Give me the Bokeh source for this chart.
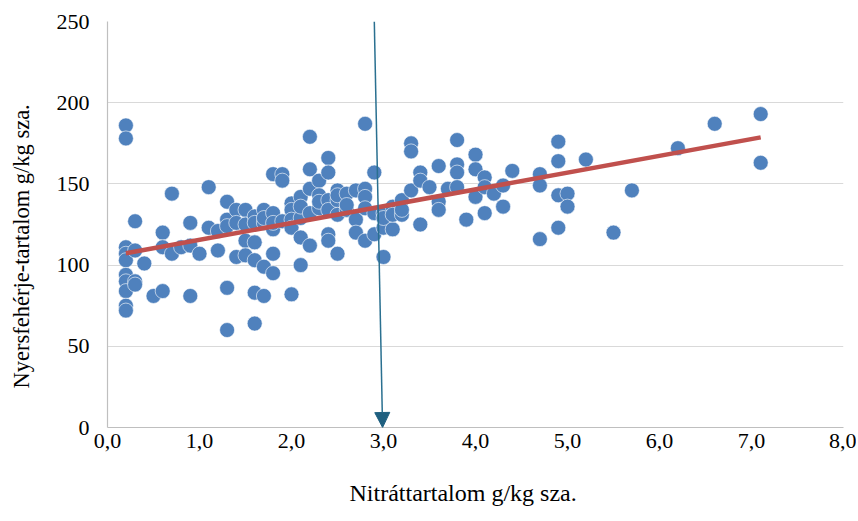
import numpy as np
from bokeh.plotting import figure
from bokeh.models import FixedTicker, Range1d, Arrow, NormalHead, ColumnDataSource, Title
from bokeh.embed import file_html
from bokeh.resources import INLINE

# ---- data ----
nitrate = [
    0.2, 0.2, 0.2, 0.2, 0.2, 0.2, 0.2, 0.2, 0.2, 0.2,
    0.3, 0.3, 0.3, 0.3,
    0.4, 0.5,
    0.6, 0.6, 0.6,
    0.7, 0.7, 0.8,
    0.9, 0.9, 0.9,
    1.0, 1.1, 1.1, 1.2, 1.2,
    1.3, 1.3, 1.3, 1.3, 1.3,
    1.4, 1.4, 1.4,
    1.5, 1.5, 1.5, 1.5,
    1.6, 1.6, 1.6, 1.6, 1.6, 1.6,
    1.7, 1.7, 1.7, 1.7, 1.7,
    1.8, 1.8, 1.8, 1.8, 1.8, 1.8,
    1.9, 1.9, 1.9,
    2.0, 2.0, 2.0, 2.0, 2.0,
    2.1, 2.1, 2.1, 2.1, 2.1,
    2.2, 2.2, 2.2, 2.2, 2.2,
    2.3, 2.3, 2.3, 2.3,
    2.4, 2.4, 2.4, 2.4, 2.4, 2.4,
    2.5, 2.5, 2.5, 2.5, 2.5,
    2.6, 2.6, 2.6,
    2.7, 2.7, 2.7,
    2.8, 2.8, 2.8, 2.8, 2.8,
    2.9, 2.9, 2.9,
    3.0, 3.0, 3.0, 3.0,
    3.1, 3.1, 3.1,
    3.2, 3.2, 3.2,
    3.3, 3.3, 3.3,
    3.4, 3.4, 3.4,
    3.5,
    3.6, 3.6, 3.6,
    3.7,
    3.8, 3.8, 3.8, 3.8,
    3.9,
    4.0, 4.0, 4.0,
    4.1, 4.1, 4.1,
    4.2,
    4.3, 4.3,
    4.4,
    4.7, 4.7, 4.7,
    4.9, 4.9, 4.9, 4.9,
    5.0, 5.0,
    5.2, 5.5, 5.7, 6.2, 6.6,
    7.1, 7.1,
]
protein = [
    186, 178, 111, 107, 103, 94, 90, 84, 75, 72,
    127, 109, 90, 88,
    101, 81,
    120, 111, 84,
    144, 107, 111,
    126, 112, 81,
    107, 148, 123, 121, 109,
    139, 128, 124, 86, 60,
    134, 126, 105,
    134, 115, 106, 125,
    130, 114, 103, 83, 64, 126,
    134, 126, 99, 81, 129,
    156, 132, 122, 107, 95, 126,
    156, 152, 127,
    138, 134, 128, 123, 82,
    142, 129, 117, 100, 136,
    179, 159, 147, 112, 132,
    152, 143, 135, 139,
    166, 157, 140, 134, 119, 115,
    146, 140, 131, 107, 143,
    144, 134, 137,
    146, 128, 120,
    187, 147, 142, 115, 135,
    157, 132, 119,
    132, 123, 105, 129,
    122, 136, 131,
    140, 131, 134,
    175, 170, 146,
    157, 152, 125,
    148,
    161, 139, 134,
    147,
    177, 162, 157, 148,
    128,
    168, 159, 142,
    154, 148, 132,
    144,
    149, 136,
    158,
    156, 149, 116,
    176, 164, 143, 123,
    144, 136,
    165, 120, 146, 172, 187,
    193, 163,
]
x_ticks = [0, 1, 2, 3, 4, 5, 6, 7, 8]
x_tick_labels = ["0,0", "1,0", "2,0", "3,0", "4,0", "5,0", "6,0", "7,0", "8,0"]
y_ticks = [0, 50, 100, 150, 200, 250]
x_label = "Nitráttartalom g/kg sza."
y_label = "Nyersfehérje-tartalom g/kg sza."
# arrow annotation (data coordinates)
arrow_x_start, arrow_y_start = 2.90, 250
arrow_x_end, arrow_y_end = 2.99, 0

FONT = "Liberation Serif"

p = figure(width=856, height=519, output_backend="svg", toolbar_location=None,
           x_range=Range1d(0, 8), y_range=Range1d(0, 250),
           min_border_left=107, min_border_right=13, min_border_top=21, min_border_bottom=92)
p.outline_line_color = None
p.background_fill_color = "white"
p.border_fill_color = "white"

# grid
p.xgrid.grid_line_color = None
p.ygrid.grid_line_color = "#d9d9d9"
p.ygrid.grid_line_width = 1.2
p.ygrid.ticker = FixedTicker(ticks=y_ticks)

# axes
p.xaxis.ticker = FixedTicker(ticks=x_ticks)
p.xaxis.major_label_overrides = {t: l for t, l in zip(x_ticks, x_tick_labels)}
p.yaxis.ticker = FixedTicker(ticks=y_ticks)
for ax in (p.xaxis, p.yaxis):
    ax.axis_line_color = "#bfbfbf"
    ax.axis_line_width = 1.2
    ax.major_tick_line_color = None
    ax.minor_tick_line_color = None
    ax.major_tick_out = 0
    ax.major_tick_in = 0
    ax.minor_tick_out = 0
    ax.minor_tick_in = 0
    ax.major_label_text_font = FONT
    ax.major_label_text_font_size = "22px"
    ax.major_label_text_color = "black"
p.xaxis.major_label_standoff = 6
p.yaxis.major_label_standoff = 18

# blank spacers between the axes and their titles
p.add_layout(Title(text=" ", text_font=FONT, text_font_size="16px", standoff=8), "below")
p.add_layout(Title(text=" ", text_font=FONT, text_font_size="8px", standoff=8), "left")

# axis titles as side-panel titles (offset like the reference)
p.add_layout(Title(text=x_label, text_font=FONT, text_font_size="24px",
                   text_font_style="normal", text_color="black",
                   align="left", offset=242, standoff=0), "below")
p.add_layout(Title(text=y_label, text_font=FONT, text_font_size="22.5px",
                   text_font_style="normal", text_color="black",
                   align="left", offset=39, standoff=2), "left")

# scatter
src = ColumnDataSource(dict(x=nitrate, y=protein))
p.scatter("x", "y", source=src, size=15, marker="circle",
          fill_color="#4f81bd", line_color="white", line_width=0.6)

# linear trend line (least squares fit of the data)
slope, intercept = np.polyfit(np.array(nitrate), np.array(protein), 1)
tx = [min(nitrate), max(nitrate)]
ty = [intercept + slope * v for v in tx]
p.line(tx, ty, line_color="#c0504d", line_width=4.5)

# arrow
p.add_layout(Arrow(x_start=arrow_x_start, y_start=arrow_y_start,
                   x_end=arrow_x_end, y_end=arrow_y_end,
                   line_color="#2a7090", line_width=1.5,
                   end=NormalHead(size=15, fill_color="#1f6080", line_color="#1f6080")))

open("out.html", "w").write(file_html(p, INLINE))
